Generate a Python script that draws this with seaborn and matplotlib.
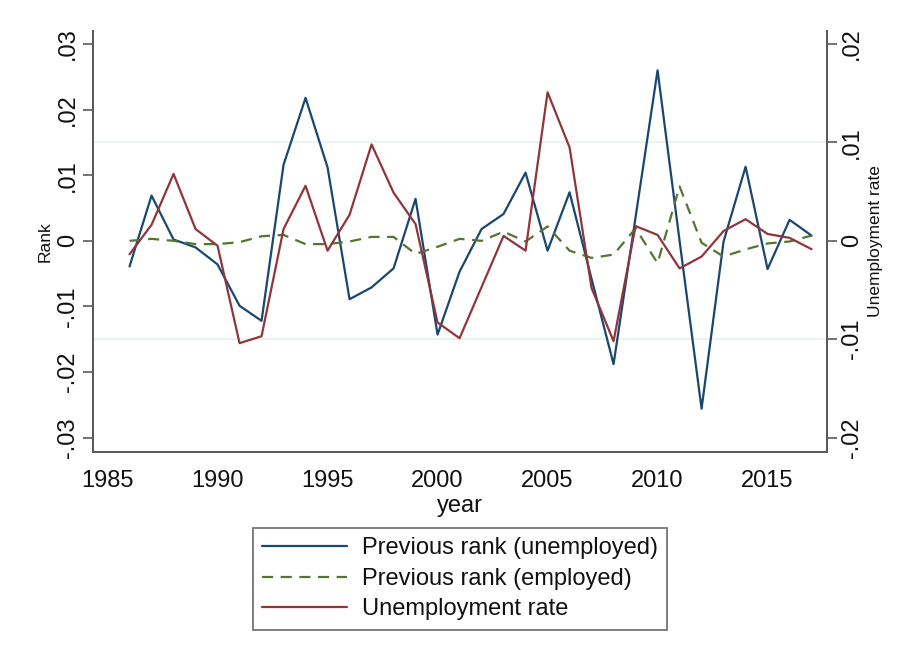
import matplotlib
matplotlib.use("Agg")
import matplotlib.pyplot as plt
from matplotlib.lines import Line2D
import numpy as np
import pandas as pd
import seaborn as sns

# Annual series, 1986-2017
years = list(range(1986, 2018))

rank_unemployed = [
    -0.0039, 0.0069, 0.0002, -0.0010, -0.0036, -0.0099, -0.0122, 0.0116,
    0.0218, 0.0112, -0.0089, -0.0071, -0.0042, 0.0064, -0.0143, -0.0047,
    0.0018, 0.0041, 0.0104, -0.0015, 0.0074, -0.0058, -0.0188, 0.0036,
    0.0260, 0.0000, -0.0256, -0.0001, 0.0113, -0.0043, 0.0032, 0.0008,
]

rank_employed = [
    0.0000, 0.0003, 0.0000, -0.0005, -0.0005, -0.0002, 0.0007, 0.0009,
    -0.0005, -0.0005, -0.0001, 0.0006, 0.0006, -0.0020, -0.0009, 0.0003,
    0.0000, 0.0014, -0.0001, 0.0022, -0.0015, -0.0026, -0.0021, 0.0019,
    -0.0034, 0.0083, -0.0003, -0.0024, -0.0013, -0.0004, -0.0001, 0.0008,
]

unemployment_rate = [
    -0.00136, 0.00163, 0.0068, 0.0012, -0.0005, -0.0104, -0.0097, 0.0012,
    0.0056, -0.0010, 0.00265, 0.0098, 0.0049, 0.0017, -0.0083, -0.0099,
    -0.0047, 0.0005, -0.0010, 0.0151, 0.0095, -0.0048, -0.0102, 0.0015,
    0.0006, -0.0028, -0.0016, 0.0010, 0.0022, 0.0007, 0.0003, -0.00085,
]

left_ticks = [-0.03, -0.02, -0.01, 0.0, 0.01, 0.02, 0.03]
left_labels = ["-.03", "-.02", "-.01", "0", ".01", ".02", ".03"]
right_ticks = [-0.02, -0.01, 0.0, 0.01, 0.02]
right_labels = ["-.02", "-.01", "0", ".01", ".02"]
x_ticks = [1985, 1990, 1995, 2000, 2005, 2010, 2015]

labels = ["Previous rank (unemployed)", "Previous rank (employed)", "Unemployment rate"]

df = pd.DataFrame({
    "year": years,
    "unemp": rank_unemployed,
    "emp": rank_employed,
    "urate": unemployment_rate,
})

sns.set_theme(style="white")
plt.rcParams["font.family"] = ["Liberation Sans", "DejaVu Sans"]

NAVY = "#1a476f"
GREEN = "#55752f"
MAROON = "#90353b"
AXIS = "#5a5a5a"
GRID = "#e9f1f3"
TXT = "#111111"
FS = 17

fig = plt.figure(figsize=(9.04, 6.59), dpi=100, facecolor="white")
ax = fig.add_axes([0.1029, 0.3141, 0.8119, 0.6389])
ax2 = ax.twinx()

lw = 1.6
dash = (0, (5, 3.4))
sns.lineplot(data=df, x="year", y="unemp", ax=ax, color=NAVY, lw=lw, zorder=3)
sns.lineplot(data=df, x="year", y="emp", ax=ax, color=GREEN, lw=lw,
             linestyle=dash, zorder=3)
sns.lineplot(data=df, x="year", y="urate", ax=ax2, color=MAROON, lw=lw, zorder=3)

ax.set_xlim(1984.34, 2017.7)
ax.set_ylim(-0.0322, 0.0320)
ax2.set_ylim(-0.0322 * 2 / 3, 0.0320 * 2 / 3)

# horizontal grid lines sit at the right-axis steps
ax.set_yticks(left_ticks)
ax.set_yticks([v * 1.5 for v in right_ticks], minor=True)
ax.yaxis.grid(True, which="minor", color=GRID, lw=1.3, zorder=0)
ax.yaxis.grid(False, which="major")
ax.tick_params(axis="y", which="minor", length=0)
ax.set_axisbelow(True)

ax.set_yticklabels(left_labels, rotation=90, va="center", fontsize=FS)
ax2.set_yticks(right_ticks)
ax2.set_yticklabels(right_labels, rotation=90, va="center", fontsize=FS)
ax.set_xticks(x_ticks)
ax.set_xticklabels([str(t) for t in x_ticks], fontsize=FS)

for a in (ax, ax2):
    a.spines["top"].set_visible(False)
    for s in ("left", "right", "bottom"):
        a.spines[s].set_color(AXIS)
        a.spines[s].set_linewidth(1.4)
    a.tick_params(direction="out", length=7, width=1.2, color=AXIS,
                  labelcolor=TXT, pad=3)
    a.grid(False, which="major")
ax.tick_params(axis="x", pad=6)

ax.set_xlabel("year", fontsize=FS, labelpad=2, color=TXT)
ax.set_ylabel("Rank", fontsize=12.5, color=TXT, va="center")
ax.yaxis.set_label_coords(-0.065, 0.5)
ax2.set_ylabel("Unemployment rate", fontsize=12.5, color=TXT,
               rotation=90, va="center")
ax2.yaxis.set_label_coords(1.066, 0.5)

handles = [
    Line2D([], [], color=NAVY, lw=lw),
    Line2D([], [], color=GREEN, lw=lw, linestyle=dash),
    Line2D([], [], color=MAROON, lw=lw),
]
leg = fig.legend(handles, labels, loc="center", bbox_to_anchor=(0.5088, 0.1214),
                 fontsize=FS, frameon=True, fancybox=False, handlelength=3.6,
                 handletextpad=0.6, labelspacing=0.36, borderpad=0.4,
                 borderaxespad=0)
leg.get_frame().set_linewidth(1.2)
leg.get_frame().set_edgecolor("#444444")
for t in leg.get_texts():
    t.set_color(TXT)

fig.savefig("out.png", dpi=100, facecolor="white")
